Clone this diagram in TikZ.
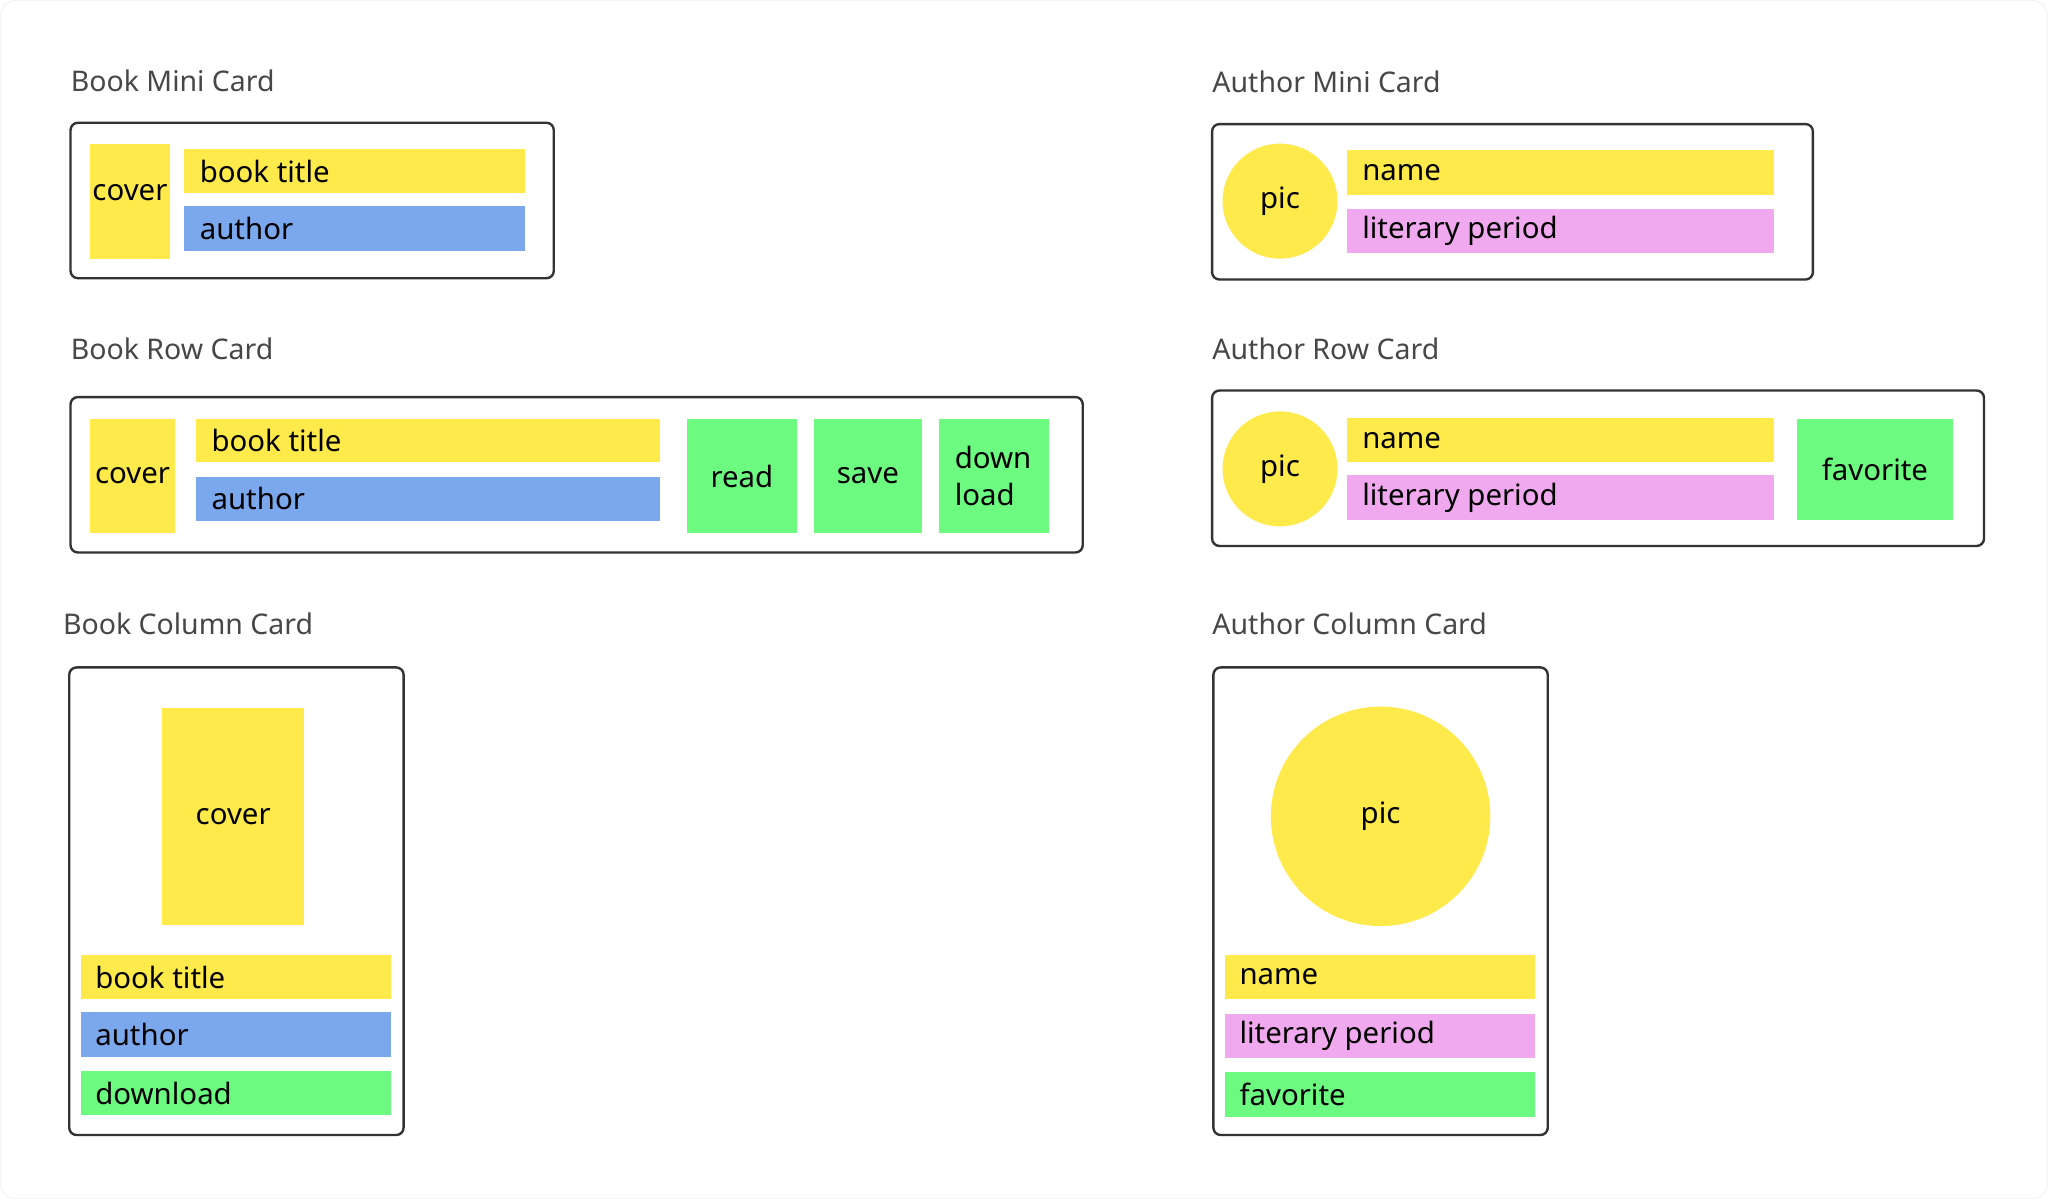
\documentclass[tikz,border=0pt]{standalone}
\usepackage{fontspec}
\setmainfont{Noto Sans}
\usetikzlibrary{fit}
\definecolor{cyellow}{HTML}{FFEA4C}
\definecolor{cblue}{HTML}{7BA7EC}
\definecolor{cpink}{HTML}{F0A9EE}
\definecolor{cgreen}{HTML}{6CFB80}
\definecolor{frame}{HTML}{333333}
\definecolor{heading}{HTML}{474747}
\begin{document}
\begin{tikzpicture}[
    x=0.025cm, y=-0.025cm,
    card/.style={draw=frame, line width=1.3pt, rounded corners=4pt, inner sep=0pt},
    bar/.style={inner sep=0pt, font=\fontsize{16}{18}\selectfont},
    txt/.style={anchor=west, font=\fontsize{16}{18}\selectfont, inner sep=0pt},
    pic/.style={circle, fill=cyellow, inner sep=0pt, font=\fontsize{16}{18}\selectfont},
    title/.style={anchor=west, text=heading, font=\fontsize{15.5}{18}\selectfont, inner sep=0pt}
]
\useasboundingbox (0,0) rectangle (1568,918);
\draw[draw=black!6, fill=white, rounded corners=8pt] (0.5,0.5) rectangle (1567.5,917.5);

% Book Mini Card
\node[title] (bmtitle) at (54,62) {Book Mini Card};
\node[card, fit={(54,94)(424,213)}] (bmcard) {};
\node[bar, fill=cyellow, fit={(69,110)(130,198)}] (bmcover) {cover};
\node[bar, fill=cyellow, fit={(141,114)(402,148)}] (bmtitlebar) {};
\node[txt] at ([xshift=12*0.025cm]bmtitlebar.west) {book title};
\node[bar, fill=cblue, fit={(141,158)(402,192)}] (bmauthor) {};
\node[txt] at ([xshift=12*0.025cm]bmauthor.west) {author};

% Author Mini Card
\node[title] (amtitle) at (928,63) {Author Mini Card};
\node[card, fit={(928,95)(1388,214)}] (amcard) {};
\node[pic, minimum size=2.2cm] (ampic) at (980,154) {pic};
\node[bar, fill=cyellow, fit={(1031,115)(1358,149)}] (amname) {};
\node[txt] at ([xshift=12*0.025cm]amname.west) {name};
\node[bar, fill=cpink, fit={(1031,160)(1358,194)}] (amperiod) {};
\node[txt] at ([xshift=12*0.025cm]amperiod.west) {literary period};

% Book Row Card
\node[title] (brtitle) at (54,267) {Book Row Card};
\node[card, fit={(54,304)(829,423)}] (brcard) {};
\node[bar, fill=cyellow, fit={(69,321)(134,408)}] (brcover) {};
\node[txt, anchor=center] at (brcover) {cover};
\node[bar, fill=cyellow, fit={(150,321)(505,354)}] (brtitlebar) {};
\node[txt] at ([xshift=12*0.025cm]brtitlebar.west) {book title};
\node[bar, fill=cblue, fit={(150,365)(505,399)}] (brauthor) {};
\node[txt] at ([xshift=12*0.025cm]brauthor.west) {author};
\node[bar, fill=cgreen, fit={(526,321)(610,408)}] (brread) {};
\node[txt, anchor=center] at (brread) {read};
\node[bar, fill=cgreen, fit={(623,321)(706,408)}] (brsave) {};
\node[txt, anchor=center] at (brsave) {save};
\node[bar, fill=cgreen, fit={(719,321)(803,408)}] (brdown) {};
\node[txt, align=left, font=\fontsize{16}{20}\selectfont] at ([xshift=12*0.025cm]brdown.west) {down\\load};

% Author Row Card
\node[title] (artitle) at (928,267) {Author Row Card};
\node[card, fit={(928,299)(1519,418)}] (arcard) {};
\node[pic, minimum size=2.2cm] (arpic) at (980,359) {pic};
\node[bar, fill=cyellow, fit={(1031,320)(1358,354)}] (arname) {};
\node[txt] at ([xshift=12*0.025cm]arname.west) {name};
\node[bar, fill=cpink, fit={(1031,364)(1358,398)}] (arperiod) {};
\node[txt] at ([xshift=12*0.025cm]arperiod.west) {literary period};
\node[bar, fill=cgreen, fit={(1376,321)(1495,398)}] (arfav) {};
\node[txt, anchor=center] at (arfav) {favorite};

% Book Column Card
\node[title] (bctitle) at (48,478) {Book Column Card};
\node[card, fit={(53,511)(309,869)}] (bccard) {};
\node[bar, fill=cyellow, fit={(124,542)(233,708)}] (bccover) {};
\node[txt, anchor=center] at (bccover) {cover};
\node[bar, fill=cyellow, fit={(62,731)(299,765)}] (bctitlebar) {};
\node[txt] at ([xshift=11*0.025cm]bctitlebar.west) {book title};
\node[bar, fill=cblue, fit={(62,775)(299,809)}] (bcauthor) {};
\node[txt] at ([xshift=11*0.025cm]bcauthor.west) {author};
\node[bar, fill=cgreen, fit={(62,820)(299,854)}] (bcdown) {};
\node[txt] at ([xshift=11*0.025cm]bcdown.west) {download};

% Author Column Card
\node[title] (actitle) at (928,478) {Author Column Card};
\node[card, fit={(929,511)(1185,869)}] (accard) {};
\node[pic, minimum size=4.2cm] (acpic) at (1057,625) {pic};
\node[bar, fill=cyellow, fit={(938,731)(1175,765)}] (acname) {};
\node[txt] at ([xshift=11*0.025cm]acname.west) {name};
\node[bar, fill=cpink, fit={(938,776)(1175,810)}] (acperiod) {};
\node[txt] at ([xshift=11*0.025cm]acperiod.west) {literary period};
\node[bar, fill=cgreen, fit={(938,821)(1175,855)}] (acfav) {};
\node[txt] at ([xshift=11*0.025cm]acfav.west) {favorite};
\end{tikzpicture}
\end{document}
